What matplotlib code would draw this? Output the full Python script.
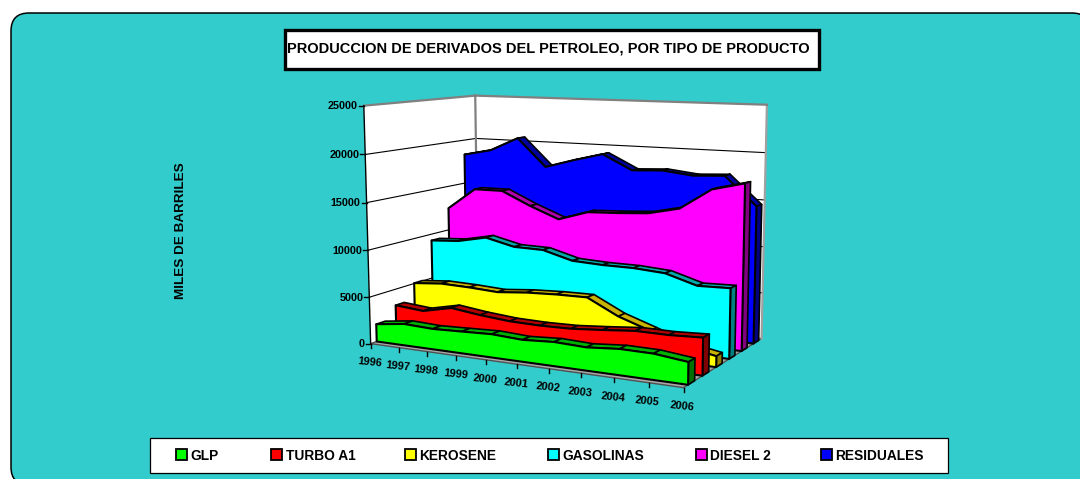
import matplotlib
matplotlib.use('Agg')
import matplotlib.pyplot as plt
import matplotlib.patches as mpatches
from matplotlib.transforms import Transform
import numpy as np

plt.rcParams['font.family'] = ['Liberation Sans', 'DejaVu Sans']

title = 'PRODUCCION DE DERIVADOS DEL PETROLEO, POR TIPO DE PRODUCTO'
ylabel = 'MILES DE BARRILES'
years = [1996, 1997, 1998, 1999, 2000, 2001, 2002, 2003, 2004, 2005, 2006]
yticks = [0, 5000, 10000, 15000, 20000, 25000]

names = ['GLP', 'TURBO A1', 'KEROSENE', 'GASOLINAS', 'DIESEL 2', 'RESIDUALES']
glp = [1880, 2300, 2170, 2290, 2420, 2250, 2450, 2330, 2600, 2570, 2200]
turbo = [3240, 2980, 3680, 3290, 3020, 2960, 3030, 3300, 3610, 3600, 3760]
kerosene = [5050, 5330, 5250, 5080, 5380, 5530, 5580, 3960, 2860, 1700, 1110]
gasolinas = [9290, 9510, 10170, 9430, 9380, 8510, 8370, 8360, 8140, 7170, 7270]
diesel = [12490, 14890, 14920, 13470, 12230, 13260, 13410, 13630, 14370, 16590, 17420]
residuales = [18320, 19000, 20520, 17440, 18380, 19220, 17630, 17800, 17440, 17620, 14630]
series = [glp, turbo, kerosene, gasolinas, diesel, residuales]

face = ['#00ff00', '#ff0000', '#ffff00', '#00ffff', '#ff00ff', '#0000ff']
top = ['#00b000', '#b00000', '#c8b400', '#00a8a8', '#b000b0', '#0000a0']
side = ['#007000', '#800000', '#908000', '#008080', '#800080', '#000080']

# where the chart box corners land on the picture: (year frac, depth, value frac) -> px
corners = [
    ((0, 0, 0), (371, 344)), ((0, 0, 1), (364, 105)),
    ((0, 1, 0), (478, 305)), ((0, 1, 1), (475, 96)),
    ((1, 1, 1), (767, 105)), ((1, 1, 0), (762, 338)),
    ((1, 0, 0), (683, 388)),
]
rows = []
for (u, v, w), (px, py) in corners:
    rows.append([u, v, w, 1, 0, 0, 0, 0, -px*u, -px*v, -px*w, -px])
    rows.append([0, 0, 0, 0, u, v, w, 1, -py*u, -py*v, -py*w, -py])
P = np.linalg.svd(np.array(rows, float))[2][-1].reshape(3, 4)


class Box(Transform):
    # (year, value) on a plane of constant depth -> picture pixels
    input_dims = 2
    output_dims = 2

    def __init__(self, plane):
        super().__init__()
        self.plane = plane

    def transform_non_affine(self, xy):
        xy = np.asarray(xy, float)
        u = (xy[:, 0] - years[0]) / (years[-1] - years[0])
        w = xy[:, 1] / yticks[-1]
        q = P @ np.c_[u, np.full(len(u), self.plane), w, np.ones(len(u))].T
        return (q[:2] / q[2]).T


fig = plt.figure(figsize=(10.8, 4.79), dpi=100)
ax = fig.add_axes([0, 0, 1, 1])
ax.set_xlim(0, 1080)
ax.set_ylim(479, 0)
ax.set_autoscale_on(False)
ax.axis('off')


def tr(plane):
    return Box(plane) + ax.transData


# background panel
ax.add_patch(mpatches.FancyBboxPatch((11, 13), 1079, 472, boxstyle='round,pad=0,rounding_size=18',
                                     fc='#33cccc', ec='black', lw=1.1, zorder=0))

# walls and floor
x0, x1 = years[0], years[-1]
ymax = yticks[-1]
ax.fill([x0, x1, x1, x0], [0, 0, ymax, ymax], transform=tr(1), fc='white', ec='none', zorder=0.1)
q = Box(0).transform(np.array([[x0, 0], [x0, ymax]]))
r = Box(1).transform(np.array([[x0, 0], [x0, ymax]]))
ax.fill([q[0, 0], r[0, 0], r[1, 0], q[1, 0]], [q[0, 1], r[0, 1], r[1, 1], q[1, 1]], fc='white', ec='none', zorder=0.1)
f = Box(0).transform(np.array([[x1, 0]]))
s = Box(1).transform(np.array([[x1, 0]]))
ax.fill([q[0, 0], f[0, 0], s[0, 0], r[0, 0]], [q[0, 1], f[0, 1], s[0, 1], r[0, 1]], fc='#a8a8a8', ec='#505050', lw=1, zorder=0.2)

for t in yticks[1:-1]:
    a = Box(0).transform(np.array([[x0, t]]))[0]
    b = Box(1).transform(np.array([[x0, t]]))[0]
    ax.plot([a[0], b[0]], [a[1], b[1]], color='black', lw=0.8, zorder=0.3)
    ax.plot([x0, x1], [t, t], transform=tr(1), color='black', lw=0.8, zorder=0.3)
ax.plot([x0, x0], [0, ymax], transform=tr(1), color='#808080', lw=1.6, zorder=0.4)
ax.plot([x1, x1], [0, ymax], transform=tr(1), color='#a0a0a0', lw=1.6, zorder=0.4)
ax.plot([x0, x1], [ymax, ymax], transform=tr(1), color='#808080', lw=1.6, zorder=0.4)
ax.plot([q[1, 0], r[1, 0]], [q[1, 1], r[1, 1]], color='#808080', lw=1.6, zorder=0.4)

# value axis
ax.plot([x0, x0], [0, ymax], transform=tr(0), color='black', lw=1, zorder=0.5)
for t in yticks:
    a = Box(0).transform(np.array([[x0, t]]))[0]
    ax.plot([a[0]-5, a[0]], [a[1], a[1]], color='black', lw=1, zorder=0.5)
    ax.text(a[0]-6, a[1]+0.5, str(t), ha='right', va='center', fontsize=7.8, fontweight='bold')

# year axis
for yr in years:
    a = Box(0).transform(np.array([[yr, 0]]))[0]
    ax.plot([a[0], a[0]], [a[1], a[1]+4], color='black', lw=1, zorder=0.5)
    ax.text(a[0]-1, a[1]+19, str(yr), ha='center', va='center', fontsize=7.9, fontweight='bold', rotation=-6)

# area series, back one first
thick = 0.075
for i in range(5, -1, -1):
    d = 0.05 + i * 0.1665
    vals = series[i]
    back = Box(d + thick).transform(np.c_[years, vals])
    front = Box(d).transform(np.c_[years, vals])
    for k in range(len(years) - 1):
        poly = np.array([front[k], front[k+1], back[k+1], back[k]])
        ax.fill(poly[:, 0], poly[:, 1], fc=top[i], ec='black', lw=1.2, joinstyle='round')
    end0 = Box(d).transform(np.array([[years[-1], 0]]))[0]
    end1 = Box(d + thick).transform(np.array([[years[-1], 0]]))[0]
    poly = np.array([front[-1], back[-1], end1, end0])
    ax.fill(poly[:, 0], poly[:, 1], fc=side[i], ec='black', lw=1.2, joinstyle='round')
    ax.fill([years[0]] + years + [years[-1]], [0] + vals + [0], transform=tr(d),
            fc=face[i], ec='black', lw=1.5, joinstyle='round')

# title
ax.add_patch(mpatches.Rectangle((284.5, 29.5), 534, 39, fc='white', ec='black', lw=2.4))
ax.text(548, 48.5, title, ha='center', va='center', fontsize=10.5, fontweight='bold')
ax.text(180.5, 231, ylabel, ha='center', va='center', rotation=90, fontsize=9.7, fontweight='bold')

# legend
ax.add_patch(mpatches.Rectangle((149.5, 437.5), 798, 35.5, fc='white', ec='black', lw=0.9))
leg_x = [176, 271, 405, 548, 696, 821]
for i, n in enumerate(names):
    ax.add_patch(mpatches.Rectangle((leg_x[i], 449), 11, 11, fc=face[i], ec='black', lw=1.3))
    ax.text(leg_x[i]+14.5, 455.5, n, ha='left', va='center', fontsize=9.9, fontweight='bold')

fig.savefig('out.png', dpi=100, facecolor='white')
